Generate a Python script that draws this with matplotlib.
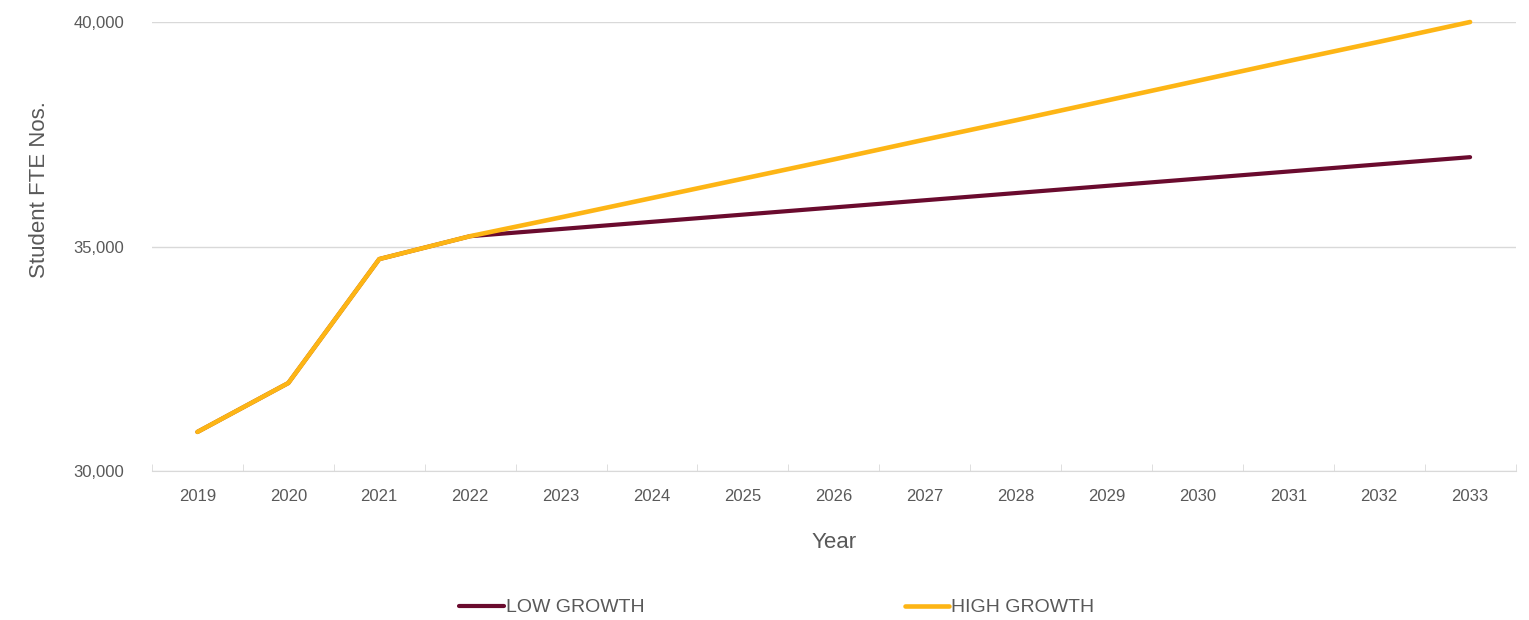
import matplotlib
matplotlib.use("Agg")
import matplotlib.pyplot as plt
from matplotlib.ticker import FuncFormatter, FixedLocator

plt.rcParams['font.family'] = ['Liberation Sans', 'DejaVu Sans']

years = [2019, 2020, 2021, 2022, 2023, 2024, 2025, 2026, 2027, 2028, 2029, 2030, 2031, 2032, 2033]
low_growth = [30870, 31960, 34720, 35230, 35390, 35550, 35710, 35870, 36030,
              36190, 36350, 36510, 36670, 36830, 36990]
high_growth = [30870, 31960, 34720, 35230, 35650, 36080, 36510, 36940, 37380,
               37810, 38250, 38690, 39130, 39560, 40000]

maroon = '#6A0B2E'
gold = '#FDB515'
text_grey = '#595959'

fig = plt.figure(figsize=(15.29, 6.2), dpi=100)
ax = fig.add_axes([0.0994, 0.2403, 0.8918, 0.7242])

pos = list(range(len(years)))
ax.plot(pos, low_growth, color=maroon, lw=3, solid_capstyle='round', label='LOW GROWTH', clip_on=False)
ax.plot(pos, high_growth, color=gold, lw=3.3, solid_capstyle='round', label='HIGH GROWTH', clip_on=False)

ax.set_xlim(-0.5, len(years) - 0.5)
ax.set_ylim(30000, 40000)
ax.set_yticks([30000, 35000, 40000])
ax.yaxis.set_major_formatter(FuncFormatter(lambda v, p: f"{int(v):,}"))
ax.set_xticks(pos)
ax.set_xticklabels([str(y) for y in years])
ax.xaxis.set_minor_locator(FixedLocator([p + 0.5 for p in pos[:-1]] + [-0.5, len(years) - 0.5]))

ax.grid(axis='y', color='#D9D9D9', lw=1)
ax.set_axisbelow(True)
for s in ['top', 'right', 'left']:
    ax.spines[s].set_visible(False)
ax.spines['bottom'].set_color('#D9D9D9')

ax.tick_params(axis='y', length=0, pad=20, labelsize=12, labelcolor=text_grey)
ax.tick_params(axis='x', which='major', length=0, pad=13, labelsize=12, labelcolor=text_grey)
ax.tick_params(axis='x', which='minor', length=5, color='#D9D9D9', direction='in')

ax.set_ylabel('Student FTE Nos.', fontsize=16, color=text_grey)
ax.yaxis.set_label_coords(-0.075, 0.626)
ax.set_xlabel('Year', fontsize=16, color=text_grey, labelpad=20)

fig.legend(loc='center', bbox_to_anchor=(0.508, 0.02), ncol=2, frameon=False,
           fontsize=14, handlelength=2.3, handletextpad=0.1, columnspacing=13.4,
           labelcolor=text_grey)

fig.savefig('out.png', dpi=100, facecolor='white')
